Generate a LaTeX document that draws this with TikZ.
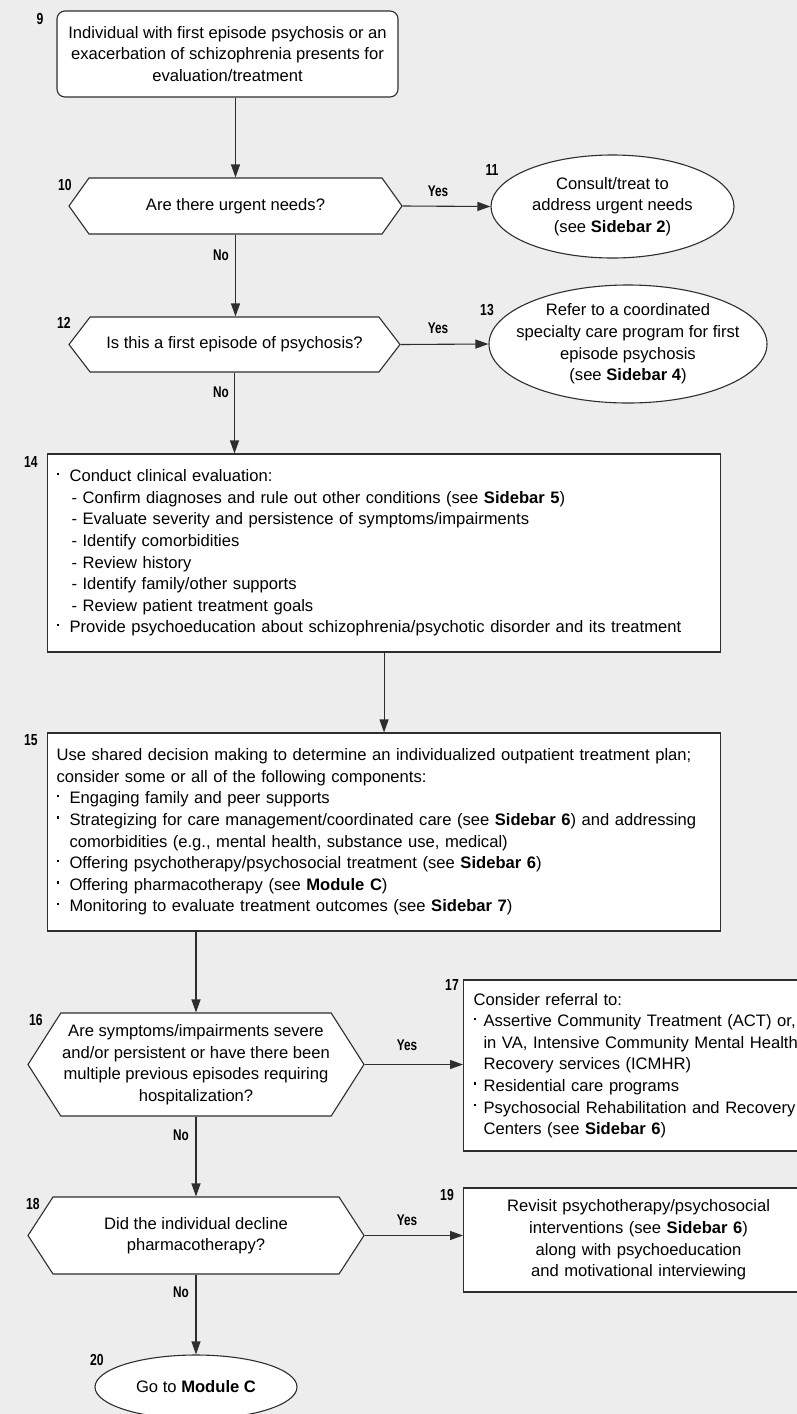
\documentclass[tikz,border=0pt]{standalone}
\usepackage{fontspec}
\setmainfont{Liberation Sans}
\newfontfamily\lblfont[FakeStretch=0.76]{Liberation Sans}
\usetikzlibrary{shapes.geometric,shapes.symbols,arrows.meta}

\definecolor{pagegray}{HTML}{EDEDED}
\definecolor{linegray}{HTML}{2E2E2E}

% small square bullet, then the text
\newcommand\sqb[1][13pt]{\makebox[#1][l]{\rule[0.75ex]{2.5pt}{2.5pt}}}

\tikzset{
  flow/.style={draw=linegray, line width=1.1pt, fill=white},
  startbox/.style={flow, rectangle, rounded corners=8pt, align=center,
    minimum width=341pt, minimum height=86pt},
  stepbox/.style={flow, rectangle, inner xsep=9pt, inner ysep=0pt, align=left},
  ask/.style={flow, signal, signal to=east and west, align=center,
    inner xsep=-20pt, inner ysep=0pt},
  oval/.style={flow, ellipse, align=center, inner sep=-25pt},
  stepnum/.style={font=\lblfont\bfseries\fontsize{16}{16}\selectfont, inner sep=0pt},
  answer/.style={font=\lblfont\bfseries\fontsize{15.5}{15.5}\selectfont, inner sep=0pt},
  flowarrow/.style={draw=linegray, line width=1.1pt, -{Triangle[length=13pt,width=9pt]}}
}

\begin{document}
\begin{tikzpicture}[x=1pt,y=-1pt,font=\fontsize{16.6}{21.6}\selectfont]
  \fill[pagegray] (0,0) rectangle (797,1414);
  \useasboundingbox (0,0) rectangle (797,1414);

  % boxes
  \node[startbox] (b9) at (227.5,54) {Individual with first episode psychosis or an\\
    exacerbation of schizophrenia presents for\\evaluation/treatment};
  \node[ask, minimum width=333pt, minimum height=56pt, signal pointer angle=109]
    (d10) at (235.5,206) {Are there urgent needs?};
  \node[oval, minimum width=243pt, minimum height=103pt] (e11) at (612.5,206.5)
    {Consult/treat to\\address urgent needs\\(see \textbf{Sidebar 2})};
  \node[ask, minimum width=331pt, minimum height=55pt, signal pointer angle=105]
    (d12) at (234.5,344.5) {Is this a first episode of psychosis?};
  \node[oval, minimum width=278pt, minimum height=118pt] (e13) at (628,344)
    {Refer to a coordinated\\specialty care program for first\\episode psychosis\\
    (see \textbf{Sidebar 4})};
  \node[stepbox, anchor=west, text width=655pt, minimum height=198pt] (b14) at (47,553) {%
    \sqb Conduct clinical evaluation:\\
    \hspace*{15pt}- Confirm diagnoses and rule out other conditions (see \textbf{Sidebar 5})\\
    \hspace*{15pt}- Evaluate severity and persistence of symptoms/impairments\\
    \hspace*{15pt}- Identify comorbidities\\
    \hspace*{15pt}- Review history\\
    \hspace*{15pt}- Identify family/other supports\\
    \hspace*{15pt}- Review patient treatment goals\\
    \sqb Provide psychoeducation about schizophrenia/psychotic disorder and its treatment};
  \node[stepbox, anchor=west, text width=655pt, minimum height=198pt] (b15) at (47,832) {%
    Use shared decision making to determine an individualized outpatient treatment plan;\\
    consider some or all of the following components:\\
    \sqb Engaging family and peer supports\\
    \sqb Strategizing for care management/coordinated care (see \textbf{Sidebar 6}) and addressing\\
    \hspace*{13pt}comorbidities (e.g., mental health, substance use, medical)\\
    \sqb Offering psychotherapy/psychosocial treatment (see \textbf{Sidebar 6})\\
    \sqb Offering pharmacotherapy (see \textbf{Module C})\\
    \sqb Monitoring to evaluate treatment outcomes (see \textbf{Sidebar 7})};
  \node[ask, minimum width=336pt, minimum height=103pt, signal pointer angle=115]
    (d16) at (196,1064.5) {Are symptoms/impairments severe\\and/or persistent or have there been\\
    multiple previous episodes requiring\\hospitalization?};
  \node[stepbox, anchor=west, inner xsep=10pt, text width=330pt, minimum height=171pt]
    (b17) at (463,1065.5) {%
    Consider referral to:\\
    \sqb[10pt]Assertive Community Treatment (ACT) or,\\
    \hspace*{10pt}in VA, Intensive Community Mental Health\\
    \hspace*{10pt}Recovery services (ICMHR)\\
    \sqb[10pt]Residential care programs\\
    \sqb[10pt]Psychosocial Rehabilitation and Recovery\\
    \hspace*{10pt}Centers (see \textbf{Sidebar 6})};
  \node[ask, minimum width=336pt, minimum height=77pt, signal pointer angle=114]
    (d18) at (196,1235.5) {Did the individual decline\\pharmacotherapy?};
  \node[stepbox, anchor=west, align=center, inner xsep=10pt, text width=330pt,
    minimum height=104pt] (b19) at (463,1240) {Revisit psychotherapy/psychosocial\\
    interventions (see \textbf{Sidebar 6})\\along with psychoeducation\\
    and motivational interviewing};
  \node[oval, minimum width=202pt, minimum height=64pt] (e20) at (196,1387)
    {Go to \textbf{Module C}};

  % step numbers
  \node[stepnum] (n9) at (40,19) {9};
  \node[stepnum] (n10) at (65,185) {10};
  \node[stepnum] (n11) at (492,170) {11};
  \node[stepnum] (n12) at (64,323) {12};
  \node[stepnum] (n13) at (487,310) {13};
  \node[stepnum] (n14) at (31,462) {14};
  \node[stepnum] (n15) at (31,740) {15};
  \node[stepnum] (n16) at (36,1020) {16};
  \node[stepnum] (n17) at (452,985) {17};
  \node[stepnum] (n18) at (33,1204) {18};
  \node[stepnum] (n19) at (447,1195) {19};
  \node[stepnum] (n20) at (97,1360) {20};

  % connectors
  \draw[flowarrow] (b9.south -| d10.north) -- (d10.north);
  \draw[flowarrow] (d10.east) -- (e11.west);
  \draw[flowarrow] (d10.south) -- (d10.south |- d12.north);
  \draw[flowarrow] (d12.east) -- (e13.west);
  \draw[flowarrow] (d12.south) -- (d12.south |- b14.north);
  \draw[flowarrow] (b14.south) -- (b15.north);
  \draw[flowarrow] (d16.north |- b15.south) -- (d16.north);
  \draw[flowarrow] (d16.east) -- (d16.east -| b17.west);
  \draw[flowarrow] (d16.south) -- (d18.north);
  \draw[flowarrow] (d18.east) -- (d18.east -| b19.west);
  \draw[flowarrow] (d18.south) -- (e20.north);

  % answers
  \node[answer] (y10) at (438,191) {Yes};
  \node[answer] (no10) at (221,255) {No};
  \node[answer] (y12) at (438,328) {Yes};
  \node[answer] (no12) at (221,392) {No};
  \node[answer] (y16) at (407,1045) {Yes};
  \node[answer] (no16) at (181,1135) {No};
  \node[answer] (y18) at (407,1220) {Yes};
  \node[answer] (no18) at (181,1292) {No};
\end{tikzpicture}
\end{document}
